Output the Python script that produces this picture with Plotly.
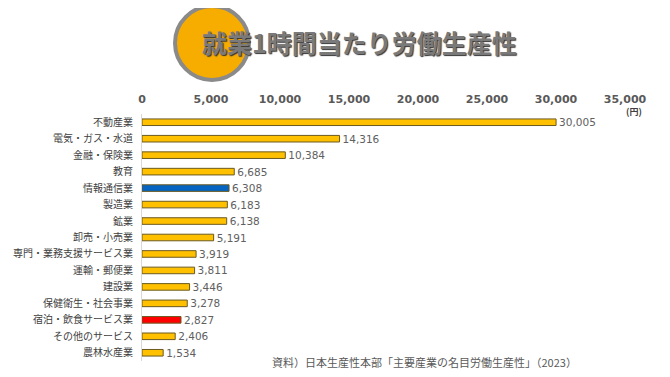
import plotly.graph_objects as go

categories = ["不動産業", "電気・ガス・水道", "金融・保険業", "教育", "情報通信業", "製造業", "鉱業",
              "卸売・小売業", "専門・業務支援サービス業", "運輸・郵便業", "建設業", "保健衛生・社会事業",
              "宿泊・飲食サービス業", "その他のサービス", "農林水産業"]
values = [30005, 14316, 10384, 6685, 6308, 6183, 6138, 5191, 3919, 3811, 3446, 3278, 2827, 2406, 1534]
highlight = {"情報通信業": "#0563C1", "宿泊・飲食サービス業": "#FF0000"}
tick_vals = [0, 5000, 10000, 15000, 20000, 25000, 30000, 35000]
tick_text = ["0", "5,000", "10,000", "15,000", "20,000", "25,000", "30,000", "35,000"]
title_text = "就業1時間当たり労働生産性"
source_text = "資料）日本生産性本部「主要産業の名目労働生産性」（2023）"
unit_text = "(円)"

# page body has an 8px default margin; work in screen coordinates and compensate
OFF = 8
W, H = 670, 377
L = 142 - OFF
T = 114 - OFF
R = W - (625 - OFF)
B = H - (361 - OFF)
pw, ph = W - L - R, H - T - B

def px(x):
    return (x - OFF - L) / pw

def py(y):
    return (H - B - (y - OFF)) / ph

colors = [highlight.get(c, "#FFC000") for c in categories]
labels = [f"{v:,}" for v in values]

fig = go.Figure(go.Bar(
    y=categories, x=values, orientation="h",
    marker=dict(color=colors, line=dict(color="#6b5a20", width=1)),
    text=labels, textposition="outside", cliponaxis=False, constraintext="none",
    textfont=dict(family="DejaVu Sans", size=10.5, color="#606060"),
    width=0.4,
))

fig.update_layout(
    width=W, height=H,
    margin=dict(l=L, r=R, t=T, b=B, autoexpand=False),
    paper_bgcolor="white", plot_bgcolor="white",
    showlegend=False,
    bargap=0.6,
    uniformtext=dict(mode=False),
    xaxis=dict(range=[0, 35000], side="top", tickvals=tick_vals, ticktext=tick_text,
               showgrid=False, zeroline=False, showline=False, automargin=False,
               ticks="outside", ticklen=6, tickcolor="rgba(0,0,0,0)",
               tickfont=dict(family="DejaVu Sans", size=11, color="#595959", weight="bold")),
    yaxis=dict(categoryorder="array", categoryarray=categories[::-1], automargin=False,
               showgrid=False, zeroline=False, showline=True, linecolor="#d9d9d9", linewidth=1,
               ticks="outside", ticklen=6, tickcolor="rgba(0,0,0,0)",
               tickfont=dict(family="Noto Sans CJK JP", size=10, color="#404040")),
    shapes=[dict(type="circle", xref="paper", yref="paper",
                 x0=px(175), x1=px(249), y0=py(80), y1=py(6),
                 fillcolor="#F7AC00", line=dict(color="#8a8a8a", width=4), layer="below")],
    annotations=[
        dict(text=title_text, xref="paper", yref="paper", x=px(359), y=py(42),
             xanchor="center", yanchor="middle", showarrow=False,
             font=dict(family="Noto Sans CJK JP", size=25, color="#7a7a7a", weight="bold",
                       shadow="1px 1px 1px #333")),
        dict(text=unit_text, xref="paper", yref="paper", x=px(634), y=py(111),
             xanchor="center", yanchor="middle", showarrow=False,
             font=dict(family="Noto Sans CJK JP", size=9, color="#404040", weight="bold")),
        dict(text=source_text, xref="paper", yref="paper", x=px(270), y=py(362),
             xanchor="left", yanchor="middle", showarrow=False,
             font=dict(family="Noto Sans CJK JP", size=11, color="#595959")),
    ],
)

fig.write_html("out.html")
